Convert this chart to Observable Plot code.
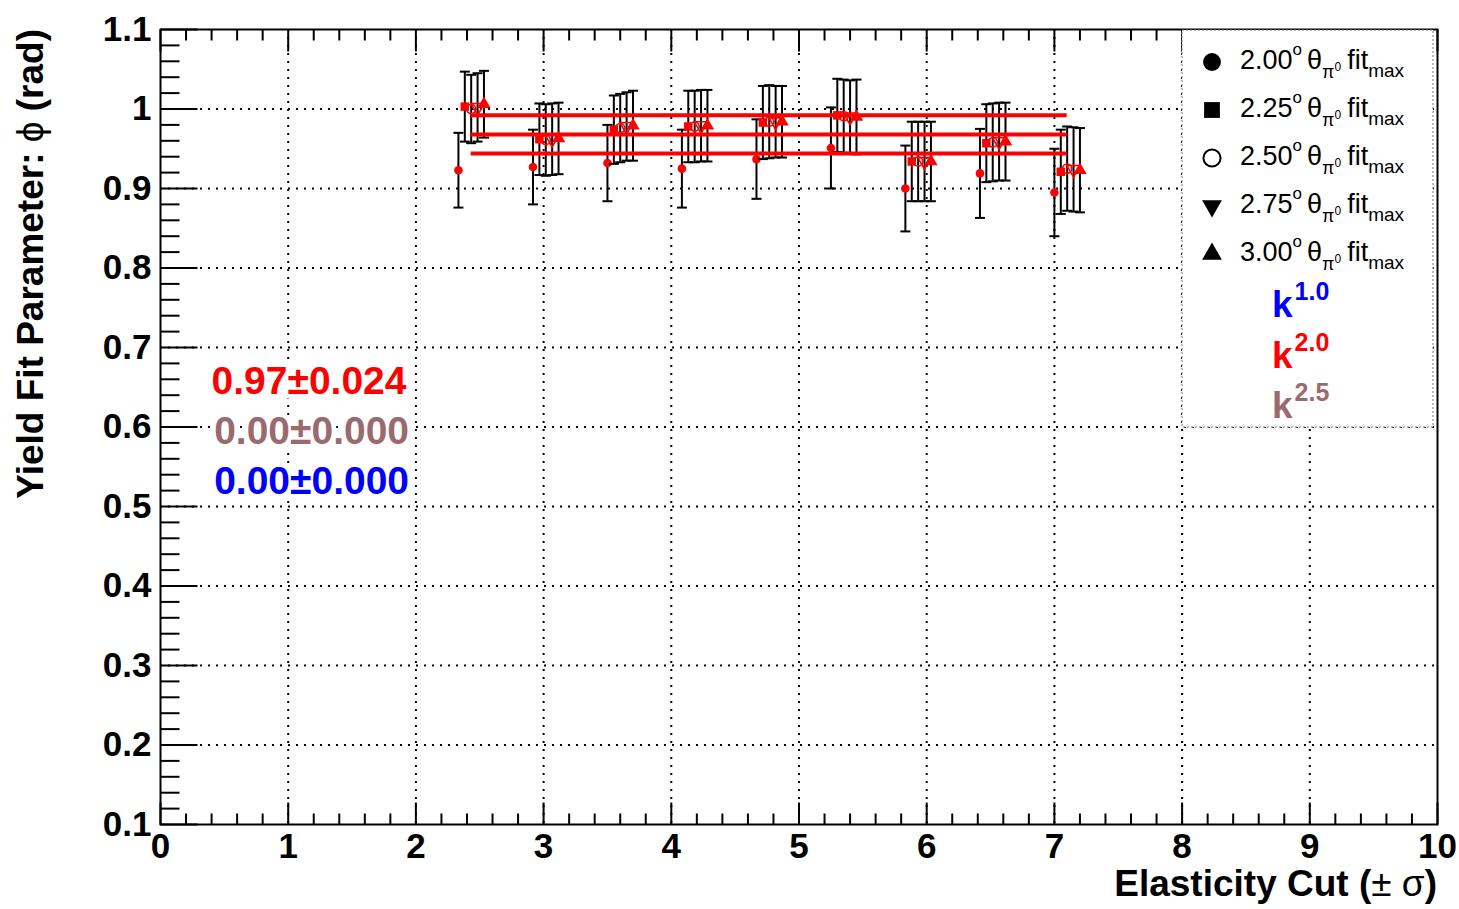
<!DOCTYPE html>
<html><head><meta charset="utf-8">
<script src="https://cdn.jsdelivr.net/npm/d3@7"></script>
<script src="https://cdn.jsdelivr.net/npm/@observablehq/plot@0.6"></script>
<style>
body{margin:0;background:#fff;}
#chart{position:relative;width:1459px;height:909px;}
</style>
</head><body><div id="chart"></div>
<script>
// ---------- data ----------
const cuts = [2.333, 2.917, 3.5, 4.083, 4.667, 5.25, 5.833, 6.417, 7.0];
const seriesLabels = ["2.00", "2.25", "2.50", "2.75", "3.00"];
const seriesOffset = [0, 0.05, 0.10, 0.15, 0.20];
const phi200 = [0.923, 0.927, 0.932, 0.925, 0.937, 0.951, 0.900, 0.919, 0.895];
const err200 = [0.047, 0.047, 0.048, 0.049, 0.050, 0.051, 0.054, 0.056, 0.055];
const phi225 = [1.003, 0.962, 0.974, 0.978, 0.983, 0.992, 0.934, 0.957, 0.921];
const err225 = [0.044, 0.045, 0.043, 0.045, 0.046, 0.046, 0.050, 0.049, 0.053];
const phi250 = [1.000, 0.961, 0.976, 0.978, 0.984, 0.991, 0.934, 0.958, 0.925];
const err250 = [0.043, 0.045, 0.043, 0.045, 0.046, 0.046, 0.050, 0.049, 0.053];
const phi275 = [1.002, 0.962, 0.978, 0.979, 0.984, 0.990, 0.934, 0.959, 0.924];
const err275 = [0.043, 0.045, 0.043, 0.045, 0.045, 0.046, 0.050, 0.049, 0.053];
const phi300 = [1.006, 0.963, 0.979, 0.979, 0.984, 0.990, 0.934, 0.959, 0.923];
const err300 = [0.042, 0.045, 0.044, 0.045, 0.045, 0.047, 0.050, 0.049, 0.053];
const fitLines = [0.992, 0.968, 0.944];
const fitRange = [2.433, 7.1];
const fitTexts = ["0.97±0.024", "0.00±0.000", "0.00±0.000"];
const fitTextColors = ["#ff0000", "#9a6a6e", "#0000ff"];
const fitTextPos = [[0.40, 0.641], [0.42, 0.578], [0.42, 0.516]];
const kLabels = ["1.0", "2.0", "2.5"];
const kColors = ["#0000ff", "#ff0000", "#9a6a6e"];
const xTicks = [0,1,2,3,4,5,6,7,8,9,10];
const xMinor = d3.range(0, 10.001, 0.2).map(v => +v.toFixed(1)).filter(v => !Number.isInteger(v));
const yTicks = [0.1,0.2,0.3,0.4,0.5,0.6,0.7,0.8,0.9,1.0,1.1];
const yMinor = d3.range(0.1, 1.1001, 0.02).map(v => +v.toFixed(2)).filter(v => Math.abs(v*10 - Math.round(v*10)) > 1e-6);
const xGrid = [1,2,3,4,5,6,7,8,9];
const yGrid = [0.2,0.3,0.4,0.5,0.6,0.7,0.8,0.9,1.0];

const phis = [phi200, phi225, phi250, phi275, phi300];
const errs = [err200, err225, err250, err275, err300];
const rows = [];
phis.forEach((arr, s) => arr.forEach((v, i) => rows.push({
  s, x: cuts[i] + seriesOffset[s], y: v, lo: v - errs[s][i], hi: v + errs[s][i]
})));

// ---------- helpers ----------
const hLine = (a, b) => ({draw(ctx){ ctx.moveTo(a, 0); ctx.lineTo(b, 0); }});
const vLine = (a, b) => ({draw(ctx){ ctx.moveTo(0, a); ctx.lineTo(0, b); }});
const grid = {stroke: "black", strokeWidth: 2, strokeDasharray: "2,6", strokeOpacity: 1};
const markerStyles = [
  {symbol: "circle", r: 4.3, fill: "red", stroke: "none"},
  {symbol: "square", r: 4.8, fill: "red", stroke: "none"},
  {symbol: "circle", r: 4.6, fill: "none", stroke: "red", strokeWidth: 1.6},
  {symbol: "triangle", r: 5, fill: "none", stroke: "red", strokeWidth: 1.6, rotate: 180},
  {symbol: "triangle", r: 5, fill: "red", stroke: "none"}
];
const seriesMarks = [];
markerStyles.forEach((ms, s) => {
  const d = rows.filter(r => r.s === s);
  seriesMarks.push(
    Plot.ruleX(d, {x: "x", y1: "lo", y2: "hi", stroke: "black", strokeWidth: 2}),
    Plot.dot(d, {x: "x", y: "lo", symbol: hLine(-5, 5), stroke: "black", strokeWidth: 2, fill: "none"}),
    Plot.dot(d, {x: "x", y: "hi", symbol: hLine(-5, 5), stroke: "black", strokeWidth: 2, fill: "none"}),
    Plot.dot(d, {x: "x", y: "y", ...ms})
  );
});

const plot = Plot.plot({
  width: 1459, height: 909,
  marginLeft: 160, marginRight: 22, marginTop: 29, marginBottom: 85,
  x: {domain: [0, 10]},
  y: {domain: [0.1, 1.1]},
  style: {fontFamily: "'Liberation Sans', Arial, Helvetica, sans-serif", background: "white", overflow: "visible"},
  marks: [
    Plot.ruleX(xGrid, {x: d => d, ...grid}),
    Plot.ruleY(yGrid, {y: d => d, ...grid}),
    ...seriesMarks,
    Plot.ruleY(fitLines, {y: d => d, x1: fitRange[0], x2: fitRange[1], stroke: "red", strokeWidth: 4}),
    // inward ticks
    Plot.dot(yTicks, {x: 0, y: d => d, symbol: hLine(0, 37), stroke: "black", strokeWidth: 2, fill: "none"}),
    Plot.dot(yMinor, {x: 0, y: d => d, symbol: hLine(0, 19), stroke: "black", strokeWidth: 2, fill: "none"}),
    Plot.dot(xTicks, {x: d => d, y: 0.1, symbol: vLine(0, -22), stroke: "black", strokeWidth: 2, fill: "none"}),
    Plot.dot(xMinor, {x: d => d, y: 0.1, symbol: vLine(0, -11), stroke: "black", strokeWidth: 2, fill: "none"}),
    Plot.dot(xTicks, {x: d => d, y: 1.1, symbol: vLine(0, 22), stroke: "black", strokeWidth: 2, fill: "none"}),
    Plot.dot(xMinor, {x: d => d, y: 1.1, symbol: vLine(0, 11), stroke: "black", strokeWidth: 2, fill: "none"}),
    Plot.axisX({ticks: xTicks, tickSize: 0, tickPadding: 9, fontSize: 35, fontWeight: "bold", label: null, fill: "black"}),
    Plot.axisY({ticks: yTicks, tickSize: 0, tickPadding: 9, fontSize: 35, fontWeight: "bold", label: null, fill: "black",
      tickFormat: d => String(+d.toFixed(1))}),
    Plot.frame({stroke: "black", strokeWidth: 2}),
    Plot.text(fitTexts, {
      x: (d, i) => fitTextPos[i][0], y: (d, i) => fitTextPos[i][1], text: d => d,
      fill: (d, i) => fitTextColors[i], textAnchor: "start", lineAnchor: "bottom",
      fontSize: 39, fontWeight: "bold", stroke: "white", strokeWidth: 9
    })
  ]
});
document.getElementById("chart").appendChild(plot);

// ---------- titles & legend ----------
const svg = d3.select(plot);
const FF = "'Liberation Sans', Arial, Helvetica, sans-serif";

// x axis title
const xt = svg.append("text").attr("x", 1437).attr("y", 896).attr("text-anchor", "end")
  .attr("font-family", FF).attr("font-size", 37).attr("fill", "black");
xt.append("tspan").attr("font-weight", "bold").text("Elasticity Cut (");
xt.append("tspan").attr("font-weight", "normal").text("±");
xt.append("tspan").attr("font-weight", "normal").text(" σ");
xt.append("tspan").attr("font-weight", "bold").text(")");

// y axis title
const yt = svg.append("text").attr("transform", "translate(43,29) rotate(-90)").attr("text-anchor", "end")
  .attr("font-family", FF).attr("font-size", 37).attr("fill", "black");
yt.append("tspan").attr("font-weight", "bold").text("Yield Fit Parameter: ");
yt.append("tspan").attr("font-weight", "normal").text("ϕ");
yt.append("tspan").attr("font-weight", "bold").text(" (rad)");

// legend
const lg = svg.append("g").attr("text-anchor", "start");
lg.append("rect").attr("x", 1182).attr("y", 30).attr("width", 251).attr("height", 397)
  .attr("fill", "white").attr("stroke", "#777").attr("stroke-width", 1).attr("stroke-dasharray", "2,2");
const legSyms = [
  {type: d3.symbolCircle, size: 250, fill: "black", stroke: "none", rot: 0},
  {type: d3.symbolSquare, size: 250, fill: "black", stroke: "none", rot: 0},
  {type: d3.symbolCircle, size: 230, fill: "none", stroke: "black", rot: 0},
  {type: d3.symbolTriangle, size: 170, fill: "black", stroke: "none", rot: 180},
  {type: d3.symbolTriangle, size: 170, fill: "black", stroke: "none", rot: 0}
];
seriesLabels.forEach((lab, i) => {
  const cy = 62 + i * 48;
  const sy = legSyms[i];
  lg.append("path").attr("d", d3.symbol(sy.type, sy.size)())
    .attr("transform", `translate(1212,${cy}) rotate(${sy.rot})`)
    .attr("fill", sy.fill).attr("stroke", sy.stroke).attr("stroke-width", 2);
  const t = lg.append("text").attr("x", 1240).attr("y", cy + 7).attr("font-family", FF)
    .attr("text-anchor", "start").attr("font-size", 27).attr("fill", "black");
  t.append("tspan").text(lab);
  t.append("tspan").attr("font-size", 17).attr("dy", -14).text("o");
  t.append("tspan").attr("font-size", 27).attr("dy", 14).attr("dx", 5).text("θ");
  t.append("tspan").attr("font-size", 18).attr("dy", 9).text("π");
  t.append("tspan").attr("font-size", 12).attr("dy", -7).text("0");
  t.append("tspan").attr("font-size", 27).attr("dy", -2).attr("dx", 6).text("fit");
  t.append("tspan").attr("font-size", 19).attr("dy", 8).text("max");
});
kLabels.forEach((k, i) => {
  const t = lg.append("text").attr("x", 1272).attr("y", 317 + i * 50.5).attr("font-family", FF)
    .attr("text-anchor", "start").attr("font-weight", "bold").attr("fill", kColors[i]);
  t.append("tspan").attr("font-size", 37).text("k");
  t.append("tspan").attr("font-size", 25).attr("dy", -17).attr("dx", 2).text(k);
});
</script>
</body></html>
